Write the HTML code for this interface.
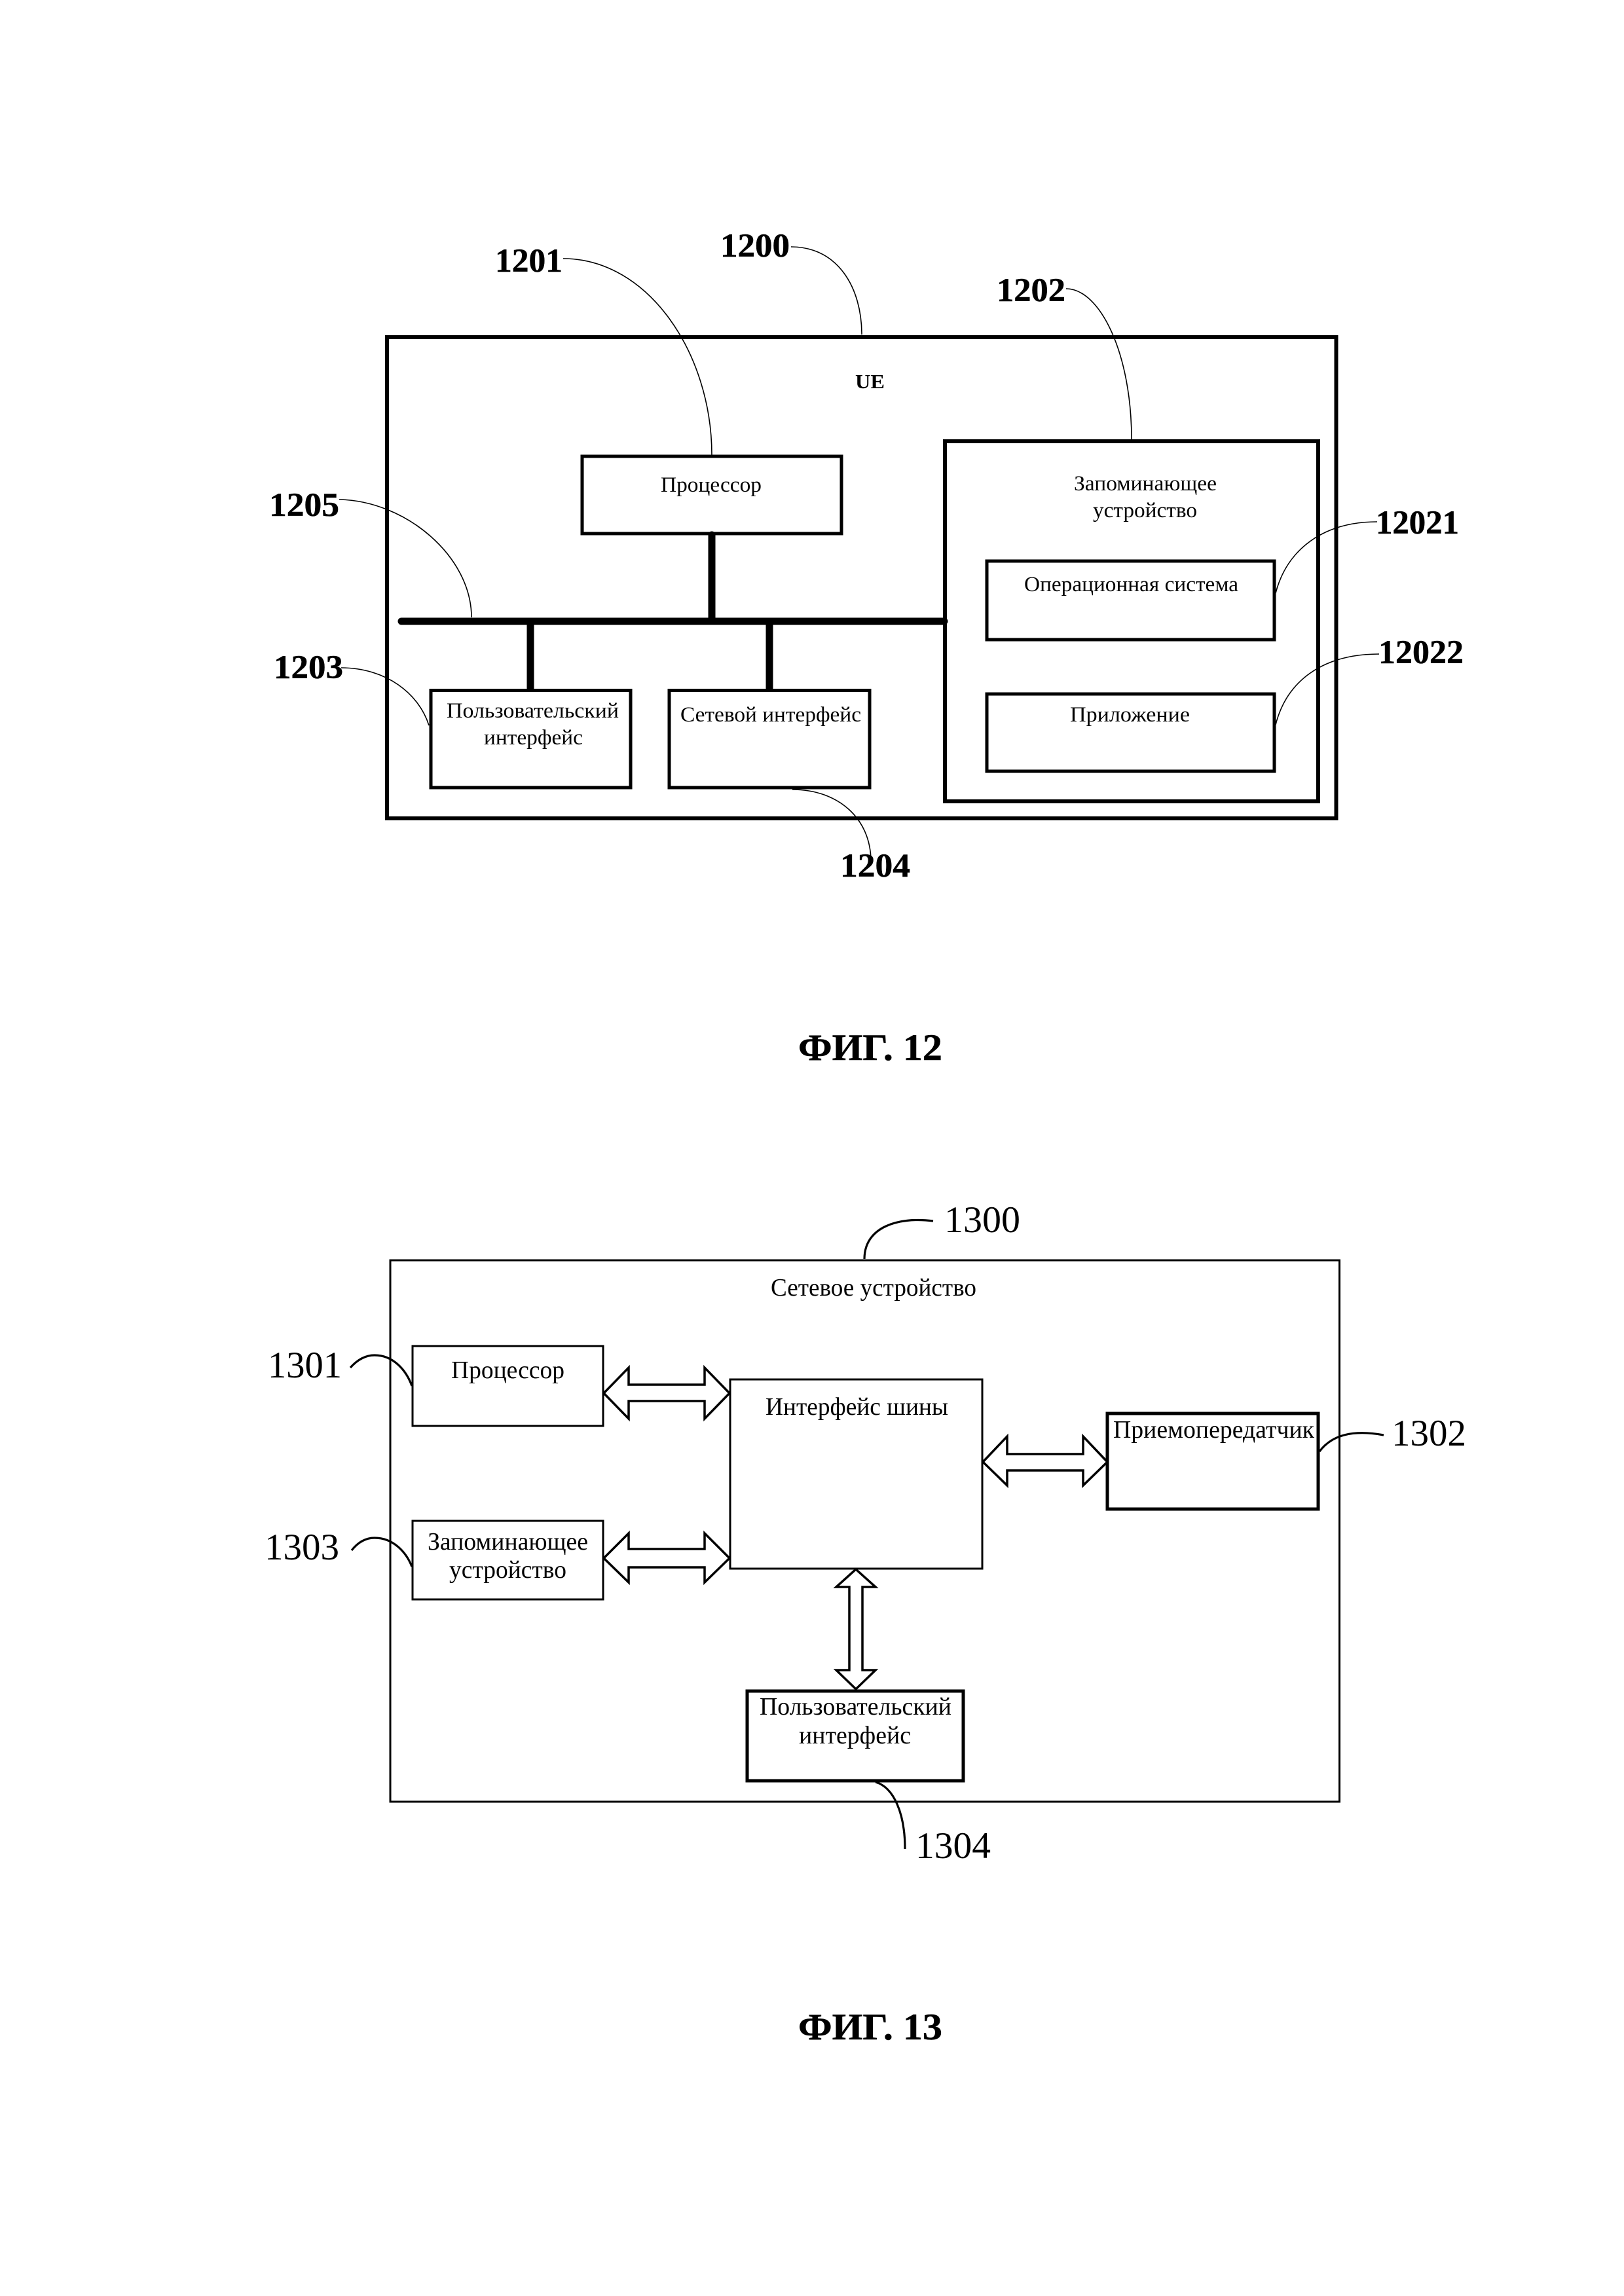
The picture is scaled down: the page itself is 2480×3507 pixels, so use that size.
<!DOCTYPE html>
<html><head><meta charset="utf-8"><style>
html,body{margin:0;padding:0;background:#fff}
svg{display:block}
text{font-family:"Liberation Serif",serif;fill:#000}
.b{font-weight:bold;font-size:51px;stroke:#000;stroke-width:.5px}
.s{font-size:33px}
.m{font-size:38px}
.n{font-size:57px}
.c{font-weight:bold;font-size:57px;stroke:#000;stroke-width:.5px}
</style></head><body>
<svg width="2480" height="3507" viewBox="0 0 2480 3507" xmlns="http://www.w3.org/2000/svg">
<rect width="2480" height="3507" fill="#fff"/>
<g fill="none" stroke="#000">
<!-- FIG 12 boxes -->
<rect x="591" y="515" width="1449.5" height="735" stroke-width="6"/>
<rect x="889" y="697" width="396" height="118" stroke-width="5"/>
<rect x="658" y="1054.5" width="305" height="148.5" stroke-width="5"/>
<rect x="1022" y="1054.5" width="306" height="148.5" stroke-width="5"/>
<rect x="1443" y="674" width="570" height="550" stroke-width="6"/>
<rect x="1507" y="857" width="439" height="120" stroke-width="5"/>
<rect x="1507" y="1060" width="439" height="118" stroke-width="5"/>
<!-- bus -->
<path d="M613 949H1442" stroke-width="11" stroke-linecap="round"/>
<path d="M1087 817V949M810 949V1051M1175 949V1051" stroke-width="11" stroke-linecap="round"/>
<!-- FIG 12 leaders -->
<g stroke-width="1.6">
<path d="M1208 377C1280 377 1316 440 1316 511"/>
<path d="M860 395C990 395 1087 540 1087 695"/>
<path d="M1628 441C1680 441 1728 540 1728 671"/>
<path d="M518 763C620 765 720 850 720 943"/>
<path d="M521 1020C590 1020 640 1060 655 1108"/>
<path d="M2103 797C2020 797 1965 840 1948 906"/>
<path d="M2106 999C2020 999 1965 1040 1948 1107"/>
<path d="M1210 1206C1280 1206 1330 1250 1330 1316"/>
</g>
<!-- FIG 13 boxes -->
<rect x="596" y="1925" width="1449.5" height="827" stroke-width="3"/>
<rect x="630" y="2056" width="291" height="122" stroke-width="3"/>
<rect x="630" y="2323" width="291" height="120" stroke-width="3"/>
<rect x="1115" y="2107" width="385" height="289" stroke-width="3"/>
<rect x="1691" y="2159" width="322" height="146" stroke-width="5"/>
<rect x="1141" y="2583" width="330" height="137" stroke-width="5"/>
<!-- double arrows -->
<g stroke-width="3.5" fill="#fff" stroke-linejoin="miter">
<path d="M922 2128L960 2089V2115H1076V2089L1114 2128L1076 2167V2140H960V2167Z"/>
<path d="M922 2380L960 2342V2366H1076V2342L1114 2380L1076 2417V2394H960V2417Z"/>
<path d="M1501 2233L1538 2194V2221H1654V2194L1691 2233L1654 2269V2246H1538V2269Z"/>
<path d="M1307 2397L1337 2424H1317V2551H1337L1307 2580L1277 2551H1297V2424H1277Z"/>
</g>
<!-- FIG 13 leaders -->
<g stroke-width="3.2">
<path d="M535 2089Q552 2070 572 2070C600 2070 620 2092 629 2117"/>
<path d="M537 2368Q552 2349 572 2349C600 2349 620 2370 629 2393"/>
<path d="M1425 1865C1370 1858 1320 1875 1320 1923"/>
<path d="M2113 2192C2070 2184 2035 2190 2015 2217"/>
<path d="M1337 2722C1365 2730 1382 2770 1382 2824"/>
</g>
</g>

<!-- FIG 12 labels -->
<text class="b" x="756" y="415" textLength="103" lengthAdjust="spacingAndGlyphs">1201</text>
<text class="b" x="1100" y="392" textLength="106" lengthAdjust="spacingAndGlyphs">1200</text>
<text class="b" x="1522" y="460" textLength="105" lengthAdjust="spacingAndGlyphs">1202</text>
<text class="b" x="411" y="788" textLength="107" lengthAdjust="spacingAndGlyphs">1205</text>
<text class="b" x="418" y="1036" textLength="106" lengthAdjust="spacingAndGlyphs">1203</text>
<text class="b" x="2101" y="815" textLength="127" lengthAdjust="spacingAndGlyphs">12021</text>
<text class="b" x="2105" y="1013" textLength="130" lengthAdjust="spacingAndGlyphs">12022</text>
<text class="b" x="1283" y="1339" textLength="107" lengthAdjust="spacingAndGlyphs">1204</text>
<text x="1306" y="593" font-size="31" font-weight="bold" textLength="45" lengthAdjust="spacingAndGlyphs">UE</text>
<text class="s" x="1009" y="751" textLength="154" lengthAdjust="spacingAndGlyphs">Процессор</text>
<text class="s" x="1640" y="749" textLength="218" lengthAdjust="spacingAndGlyphs">Запоминающее</text>
<text class="s" x="1669" y="790" textLength="159" lengthAdjust="spacingAndGlyphs">устройство</text>
<text class="s" x="1564" y="903" textLength="327" lengthAdjust="spacingAndGlyphs">Операционная система</text>
<text class="s" x="1634" y="1102" textLength="183" lengthAdjust="spacingAndGlyphs">Приложение</text>
<text class="s" x="682" y="1096" textLength="263" lengthAdjust="spacingAndGlyphs">Пользовательский</text>
<text class="s" x="739" y="1137" textLength="151" lengthAdjust="spacingAndGlyphs">интерфейс</text>
<text class="s" x="1039" y="1102" textLength="276" lengthAdjust="spacingAndGlyphs">Сетевой интерфейс</text>
<text class="c" x="1219" y="1619" textLength="220" lengthAdjust="spacingAndGlyphs">ФИГ. 12</text>

<!-- FIG 13 labels -->
<text class="m" x="1177" y="1979" textLength="314" lengthAdjust="spacingAndGlyphs">Сетевое устройство</text>
<text class="m" x="689" y="2105" textLength="173" lengthAdjust="spacingAndGlyphs">Процессор</text>
<text class="m" x="653" y="2367" textLength="245" lengthAdjust="spacingAndGlyphs">Запоминающее</text>
<text class="m" x="686" y="2410" textLength="179" lengthAdjust="spacingAndGlyphs">устройство</text>
<text class="m" x="1169" y="2161" textLength="279" lengthAdjust="spacingAndGlyphs">Интерфейс шины</text>
<text class="m" x="1160" y="2619" textLength="293" lengthAdjust="spacingAndGlyphs">Пользовательский</text>
<text class="m" x="1220" y="2663" textLength="171" lengthAdjust="spacingAndGlyphs">интерфейс</text>
<text class="m" x="1700" y="2196" textLength="307" lengthAdjust="spacingAndGlyphs">Приемопередатчик</text>
<text class="n" x="409" y="2104" textLength="113" lengthAdjust="spacingAndGlyphs">1301</text>
<text class="n" x="404" y="2382" textLength="114" lengthAdjust="spacingAndGlyphs">1303</text>
<text class="n" x="1442" y="1882" textLength="116" lengthAdjust="spacingAndGlyphs">1300</text>
<text class="n" x="2125" y="2208" textLength="114" lengthAdjust="spacingAndGlyphs">1302</text>
<text class="n" x="1398" y="2838" textLength="115" lengthAdjust="spacingAndGlyphs">1304</text>
<text class="c" x="1219" y="3115" textLength="220" lengthAdjust="spacingAndGlyphs">ФИГ. 13</text>
</svg>
</body></html>
